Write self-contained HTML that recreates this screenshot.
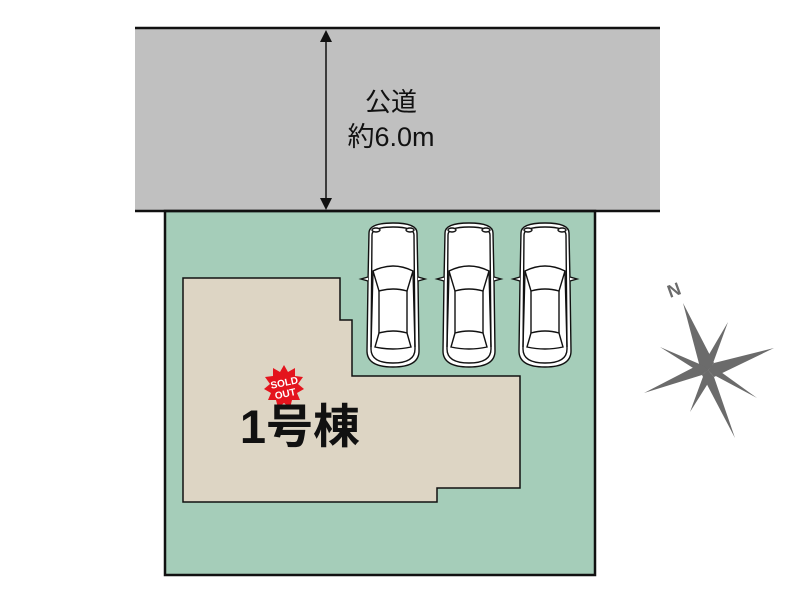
<!DOCTYPE html>
<html><head><meta charset="utf-8"><style>
html,body{margin:0;padding:0;background:#fff;width:800px;height:600px;overflow:hidden}
svg text{font-family:"Liberation Sans","Noto Sans CJK JP",sans-serif}
</style></head><body>
<svg width="800" height="600" viewBox="0 0 800 600" xmlns="http://www.w3.org/2000/svg">
<defs>
<g id="car" fill="#fff" stroke="#111" stroke-width="1.4">
<path d="M4,12 Q4,2 28,2 Q52,2 52,12 L53,60 L54,130 Q54,146 28,146 Q2,146 2,130 L3,60 Z"/>
<path d="M7,14 Q7,6 28,6 Q49,6 49,14 L50,128 Q50,142 28,142 Q6,142 6,128 Z" fill="none"/>
<path d="M8,50 Q28,40 48,50 L42,70 Q28,66 14,70 Z"/>
<path d="M14,112 Q28,108 42,112 L46,126 Q28,130 10,126 Z"/>
<path d="M14,70 L14,112 M42,70 L42,112 M8,50 L6,126 M48,50 L50,126" fill="none"/>
<path d="M3,56 L-4,58 L3,60 M53,56 L60,58 L53,60"/>
<ellipse cx="11" cy="9" rx="4" ry="2"/><ellipse cx="45" cy="9" rx="4" ry="2"/>
</g>
</defs>
<rect x="135" y="28" width="525" height="183" fill="#c0c0c0"/>
<line x1="135" y1="28" x2="660" y2="28" stroke="#111" stroke-width="2.5"/>
<rect x="165" y="211" width="430" height="364" fill="#a5cdb9" stroke="#111" stroke-width="2.5"/>
<line x1="135" y1="211" x2="660" y2="211" stroke="#111" stroke-width="2.5"/>
<line x1="326" y1="36" x2="326" y2="203" stroke="#111" stroke-width="1.5"/>
<path d="M320,42 L326,30 L332,42 Z M320,198 L326,210 L332,198 Z" fill="#111"/>
<text x="391" y="111" font-size="26" text-anchor="middle" fill="#111">公道</text>
<text x="391" y="146" font-size="27" text-anchor="middle" fill="#111">約6.0m</text>
<path d="M183,278 L340,278 L340,320 L352,320 L352,376 L520,376 L520,488 L437,488 L437,502 L183,502 Z" fill="#ddd5c4" stroke="#111" stroke-width="1.5"/>
<use href="#car" x="365" y="221"/>
<use href="#car" x="441" y="221"/>
<use href="#car" x="517" y="221"/>
<polygon points="284,365 288,372 295,368 295,376 303,377 298,384 304,389 297,393 300,400 292,400 290,408 284,403 278,408 276,400 268,400 271,393 264,389 270,384 265,377 273,376 273,368 280,372" fill="#e4141d"/>
<text x="285" y="386" font-size="10" font-weight="bold" fill="#fff" text-anchor="middle" transform="rotate(-12 285 386)">SOLD</text>
<text x="286" y="397" font-size="10" font-weight="bold" fill="#fff" text-anchor="middle" transform="rotate(-12 286 397)">OUT</text>
<text x="300" y="443" font-size="47" font-weight="bold" text-anchor="middle" fill="#111">1号棟</text>
<g fill="#6b6b6b">
<text x="667" y="295" font-size="18" font-weight="bold" fill="#6b6b6b" transform="rotate(-20 677 288)">N</text>
<polygon points="683,303 714,363 708,370 702,375"/>
<polygon points="774,348 714,363 708,370 714,377"/>
<polygon points="735,438 702,375 708,370 714,377"/>
<polygon points="644,393 702,375 708,370 702,363"/>
<polygon points="728,322 712,366 708,370 704,363"/>
<polygon points="757,398 712,374 708,370 714,367"/>
<polygon points="690,412 704,374 708,370 712,377"/>
<polygon points="660,347 704,366 708,370 701,373"/>
</g>
</svg>
</body></html>
